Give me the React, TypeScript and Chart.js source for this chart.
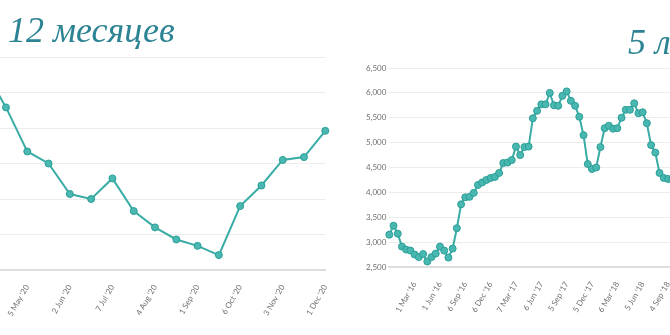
import React, { useEffect, useRef } from "react";
import { Chart, registerables } from "chart.js";

Chart.register(...registerables);

// ---- Left chart: "12 месяцев" (semi-monthly points, monthly tick labels)
const monthLabels12 = [
  "7 Apr '20", "", "5 May '20", "", "2 Jun '20", "", "7 Jul '20", "", "4 Aug '20", "",
  "1 Sep '20", "", "6 Oct '20", "", "3 Nov '20", "", "1 Dec '20",
];
const values12 = [
  5820, 5290, 4670, 4500, 4070, 4000, 4290, 3830, 3600, 3430, 3340, 3210, 3900, 4190, 4550, 4590, 4960,
];
const yMin12 = 3000;
const yMax12 = 6000;
const yStep12 = 500;

// ---- Right chart: "5 лет" (semi-monthly points, quarterly tick labels)
const quarterLabels5 = [
  "1 Mar '16", "1 Jun '16", "6 Sep '16", "6 Dec '16", "7 Mar '17", "6 Jun '17",
  "5 Sep '17", "5 Dec '17", "6 Mar '18", "5 Jun '18", "4 Sep '18",
];
const values5 = [
  3150, 3330, 3170, 2910, 2850, 2830, 2750, 2700, 2760, 2610,
  2700, 2770, 2910, 2830, 2690, 2870, 3280, 3760, 3900, 3910,
  3990, 4150, 4200, 4250, 4290, 4310, 4390, 4590, 4600, 4650,
  4920, 4750, 4910, 4920, 5490, 5640, 5770, 5770, 6000, 5750,
  5740, 5940, 6030, 5840, 5740, 5520, 5150, 4570, 4470, 4500,
  4910, 5290, 5340, 5280, 5290, 5500, 5660, 5660, 5790, 5590,
  5610, 5390, 4950, 4800, 4390, 4290, 4270, 4260,
];
const yMin5 = 2500;
const yMax5 = 6500;
const yStep5 = 500;

const TEAL_LINE = "rgb(58,172,166)";
const TEAL_FILL = "rgb(72,184,177)";
const TEAL_BORDER = "rgb(44,158,152)";
const GRID = "#ececec";
const TICK = "#6f6f6f";

function buildLabels5(n: number): string[] {
  const arr: string[] = [];
  for (let i = 0; i < n; i++) {
    if (i > 0 && i % 6 === 0 && quarterLabels5[i / 6 - 1]) arr.push(quarterLabels5[i / 6 - 1]);
    else arr.push("");
  }
  return arr;
}

function dataset(values: number[]) {
  return {
    data: values,
    borderColor: TEAL_LINE,
    borderWidth: 2,
    pointRadius: 3.5,
    pointBorderWidth: 1,
    pointBackgroundColor: TEAL_FILL,
    pointBorderColor: TEAL_BORDER,
    tension: 0,
  };
}

function xAxis() {
  return {
    type: "category" as const,
    offset: false,
    grid: { display: false },
    border: { display: true, color: "#dedede", width: 2 },
    ticks: {
      autoSkip: false,
      minRotation: 60,
      maxRotation: 60,
      color: TICK,
      font: { family: "Lato", size: 8 },
      padding: 5,
    },
    afterFit: (s: any) => {
      s.height = 60;
    },
  };
}

function LeftChart() {
  const ref = useRef<HTMLCanvasElement>(null);
  useEffect(() => {
    const chart = new Chart(ref.current!, {
      type: "line",
      data: { labels: monthLabels12, datasets: [dataset(values12)] },
      options: {
        animation: false,
        responsive: true,
        maintainAspectRatio: false,
        layout: { padding: { left: 24.7, right: 20.7, top: 10, bottom: 0 } },
        plugins: { legend: { display: false }, tooltip: { enabled: false } },
        scales: {
          x: xAxis(),
          y: {
            min: yMin12,
            max: yMax12,
            ticks: { display: false, stepSize: yStep12 },
            grid: { color: GRID, drawTicks: false },
            border: { display: false },
            afterFit: (s: any) => {
              s.width = 0;
            },
          },
        },
      },
    });
    return () => chart.destroy();
  }, []);
  return (
    <div style={{ position: "absolute", left: -40, top: 47, width: 386, height: 283 }}>
      <canvas ref={ref} />
    </div>
  );
}

function RightChart() {
  const ref = useRef<HTMLCanvasElement>(null);
  useEffect(() => {
    const chart = new Chart(ref.current!, {
      type: "line",
      data: { labels: buildLabels5(values5.length), datasets: [dataset(values5)] },
      options: {
        animation: false,
        responsive: true,
        maintainAspectRatio: false,
        layout: { padding: { left: 0, right: 17.8, top: 10, bottom: 0 } },
        plugins: { legend: { display: false }, tooltip: { enabled: false } },
        scales: {
          x: xAxis(),
          y: {
            min: yMin5,
            max: yMax5,
            ticks: {
              stepSize: yStep5,
              color: TICK,
              font: { family: "Lato", size: 8 },
              padding: 3,
            },
            grid: { color: GRID, drawTicks: false },
            border: { display: false },
            afterFit: (s: any) => {
              s.width = 29.3;
            },
          },
        },
      },
    });
    return () => chart.destroy();
  }, []);
  return (
    <div style={{ position: "absolute", left: 360, top: 58, width: 330, height: 269 }}>
      <canvas ref={ref} />
    </div>
  );
}

const titleStyle: React.CSSProperties = {
  position: "absolute",
  fontFamily: "'Liberation Serif', 'Times New Roman', serif",
  fontStyle: "italic",
  fontSize: 36,
  lineHeight: "36px",
  color: "#2b8393",
  whiteSpace: "nowrap",
};

export default function App() {
  return (
    <div
      style={{
        position: "fixed",
        left: 0,
        top: 0,
        width: 670,
        height: 335,
        overflow: "hidden",
        background: "#fff",
      }}
    >
      <LeftChart />
      <RightChart />
      <div style={{ ...titleStyle, left: 8, top: 12 }}>12 месяцев</div>
      <div style={{ ...titleStyle, left: 628, top: 24 }}>5 лет</div>
    </div>
  );
}
